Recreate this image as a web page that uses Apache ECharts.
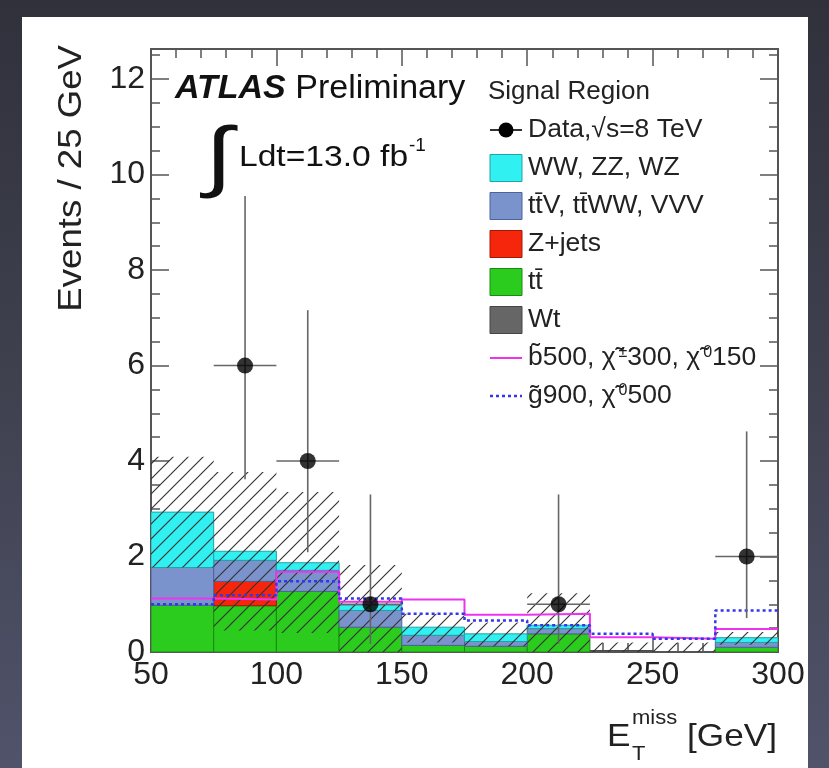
<!DOCTYPE html>
<html><head><meta charset="utf-8">
<script src="https://cdn.jsdelivr.net/npm/echarts@6/dist/echarts.min.js"></script>
<style>
html,body{margin:0;padding:0;width:829px;height:768px;overflow:hidden;background:linear-gradient(180deg,#30313b 0%,#3f414f 50%,#50536a 100%);}
#panel{position:absolute;left:22px;top:17px;width:786px;height:751px;background:#fff;}
#chart{position:absolute;left:0;top:0;width:829px;height:768px;}
</style></head><body><div id="panel"></div><div id="chart"></div>
<script>
// ---- data ----
const binEdges = [50, 75, 100, 125, 150, 175, 200, 225, 250, 275, 300];
const wt      = [0, 0, 0, 0, 0, 0, 0, 0.03, 0, 0];
const ttbar   = [0.98, 0.97, 1.27, 0.52, 0.14, 0.12, 0.38, 0, 0, 0.10];
const zjets   = [0, 0.51, 0, 0, 0, 0, 0, 0, 0, 0];
const ttv     = [0.79, 0.44, 0.44, 0.35, 0.21, 0.10, 0.11, 0, 0, 0.10];
const diboson = [1.16, 0.19, 0.16, 0.11, 0.17, 0.16, 0.07, 0, 0, 0.10];
const bandLow  = [1.77, 0.45, 0.40, 0.00, 0.20, 0.12, 0.00, 0.00, 0.00, 0.15];
const bandHigh = [4.09, 3.77, 3.35, 1.82, 0.80, 0.62, 1.23, 0.20, 0.20, 0.42];
const sbottom = [1.12, 1.10, 1.68, 1.05, 1.10, 0.78, 0.80, 0.31, 0.28, 0.48];
const gluino  = [1.00, 1.19, 1.48, 1.12, 0.80, 0.66, 0.56, 0.38, 0.28, 0.87];
const dataX  = [87.5, 112.5, 137.5, 212.5, 287.5];
const dataY  = [6, 4, 1, 1, 2];
const dataLo = [3.62, 2.09, 0.17, 0.17, 0.71];
const dataHi = [9.55, 7.16, 3.30, 3.30, 4.62];
const xTicks = [50, 100, 150, 200, 250, 300];
const yTicks = [0, 2, 4, 6, 8, 10, 12];
const legendLabels = [
  'Data,√s=8 TeV',
  'WW, ZZ, WZ',
  'tt̄V, tt̄WW, VVV',
  'Z+jets',
  'tt̄',
  'Wt',
  'b̃500, χ̃{sup|±}300, χ̃{sup|0}150',
  'g̃900, χ̃{sup|0}500'
];

// ---- styling ----
const FONT = '"Liberation Sans", Arial, Helvetica, sans-serif';
const AX = '#555';
const YMAX = 12.63;
const comps = [
  {name: 'Wt', vals: wt, fill: '#666666', stroke: '#444444'},
  {name: 'tt̄', vals: ttbar, fill: '#2ccc1e', stroke: '#1a8a12'},
  {name: 'Z+jets', vals: zjets, fill: '#f5260c', stroke: '#a01a08'},
  {name: 'tt̄V, tt̄WW, VVV', vals: ttv, fill: '#7b93cc', stroke: '#4d6399'},
  {name: 'WW, ZZ, WZ', vals: diboson, fill: '#30f0f2', stroke: '#22a3a6'}
];

function hatchCanvas() {
  const s = 15, c = document.createElement('canvas');
  c.width = s; c.height = s;
  const g = c.getContext('2d');
  g.strokeStyle = '#333'; g.lineWidth = 1.15;
  g.beginPath();
  g.moveTo(-2, s + 2); g.lineTo(s + 2, -2);
  g.moveTo(-2, 2); g.lineTo(2, -2);
  g.moveTo(s - 2, s + 2); g.lineTo(s + 2, s - 2);
  g.stroke();
  return c;
}
const hatch = hatchCanvas();

function rectRender(fill, stroke, lw) {
  return function (params, api) {
    const p0 = api.coord([api.value(0), api.value(3)]);
    const p1 = api.coord([api.value(1), api.value(2)]);
    return {type: 'rect', shape: {x: p0[0], y: p0[1], width: p1[0] - p0[0], height: p1[1] - p0[1]},
      style: {fill: fill, stroke: stroke, lineWidth: lw}};
  };
}

const series = [];
let base = binEdges.slice(0, -1).map(() => 0);
comps.forEach((c, k) => {
  const d = [];
  c.vals.forEach((v, i) => { if (v > 0) d.push([binEdges[i], binEdges[i + 1], base[i], base[i] + v]); });
  base = base.map((b, i) => b + c.vals[i]);
  series.push({type: 'custom', name: c.name, renderItem: rectRender(c.fill, c.stroke, 1), data: d,
    encode: {x: [0, 1], y: [2, 3]}, z: 2 + k, clip: true, silent: true});
});
// uncertainty band
series.push({type: 'custom', name: 'unc', z: 10, clip: true, silent: true,
  renderItem: rectRender({image: hatch, repeat: 'repeat'}, null, 0),
  data: bandLow.map((lo, i) => [binEdges[i], binEdges[i + 1], lo, bandHigh[i]]),
  encode: {x: [0, 1], y: [2, 3]}});
function stepData(vals) {
  const d = vals.map((v, i) => [binEdges[i], v]);
  d.push([binEdges[binEdges.length - 1], vals[vals.length - 1]]);
  return d;
}
series.push({type: 'line', name: 'sbottom', step: 'end', data: stepData(sbottom), symbol: 'none', z: 12,
  lineStyle: {color: '#ee33ee', width: 2}, silent: true});
series.push({type: 'line', name: 'gluino', step: 'end', data: stepData(gluino), symbol: 'none', z: 13,
  lineStyle: {color: '#3535ee', width: 2.5, type: [3, 3]}, silent: true});
// data error bars
series.push({type: 'custom', name: 'err', z: 14, silent: true,
  data: dataX.map((x, i) => [x, dataY[i], dataLo[i], dataHi[i]]),
  encode: {x: 0, y: [1, 2, 3]},
  renderItem: function (params, api) {
    const x = api.value(0), y = api.value(1);
    const top = api.coord([x, api.value(3)]), bot = api.coord([x, api.value(2)]);
    const l = api.coord([x - 12.5, y]), r = api.coord([x + 12.5, y]);
    const st = {stroke: '#666', lineWidth: 1.6};
    return {type: 'group', children: [
      {type: 'line', shape: {x1: top[0], y1: top[1], x2: bot[0], y2: bot[1]}, style: st},
      {type: 'line', shape: {x1: l[0], y1: l[1], x2: r[0], y2: r[1]}, style: st}
    ]};
  }});
series.push({type: 'scatter', name: 'Data', data: dataX.map((x, i) => [x, dataY[i]]), symbol: 'circle',
  symbolSize: 16, itemStyle: {color: '#000'}, z: 15, silent: true});

const lineCommon = {show: true, onZero: false, lineStyle: {color: AX, width: 2}};
function xAx(pos, labels) {
  return {type: 'value', position: pos, min: 50, max: 300, interval: 50,
    axisLine: lineCommon, splitLine: {show: false},
    axisTick: {show: true, inside: true, length: 17, lineStyle: {color: AX, width: 1.5}},
    minorTick: {show: true, splitNumber: 5, length: 9, lineStyle: {color: AX, width: 1.5}},
    axisLabel: {show: labels, fontSize: 32, fontFamily: FONT, color: '#222', margin: 7,
      formatter: v => (xTicks.indexOf(v) >= 0 ? String(v) : '')}};
}
function yAx(pos, interval, len, labels) {
  return {type: 'value', position: pos, min: 0, max: YMAX, interval: interval,
    axisLine: lineCommon, splitLine: {show: false},
    axisTick: {show: true, inside: true, length: len, lineStyle: {color: AX, width: 1.5}},
    axisLabel: {show: labels, fontSize: 32, fontFamily: FONT, color: '#222', margin: 6,
      showMaxLabel: false,
      formatter: v => (yTicks.indexOf(v) >= 0 ? String(v) : '')}};
}

// legend graphics
const legY0 = 130, legDY = 38, legX = 490, legW = 32, legH = 27, legTX = 528;
const legendGraphics = [];
legendLabels.forEach((lab, i) => {
  const y = legY0 + i * legDY;
  if (i === 0) {
    legendGraphics.push({type: 'line', shape: {x1: legX, y1: y, x2: legX + legW, y2: y}, style: {stroke: '#333', lineWidth: 2}});
    legendGraphics.push({type: 'circle', shape: {cx: legX + legW / 2, cy: y, r: 7.5}, style: {fill: '#000'}});
  } else if (i >= 1 && i <= 5) {
    const c = comps[5 - i];
    legendGraphics.push({type: 'rect', shape: {x: legX, y: y - legH / 2, width: legW, height: legH},
      style: {fill: c.fill, stroke: c.stroke, lineWidth: 1}});
  } else if (i === 6) {
    legendGraphics.push({type: 'line', shape: {x1: legX, y1: y, x2: legX + legW, y2: y}, style: {stroke: '#ee33ee', lineWidth: 2}});
  } else {
    legendGraphics.push({type: 'line', shape: {x1: legX, y1: y, x2: legX + legW, y2: y}, style: {stroke: '#3535ee', lineWidth: 2.5, lineDash: [3, 3]}});
  }
  legendGraphics.push({type: 'text', x: legTX, y: y, style: {text: lab, fontSize: 26.5, fontFamily: FONT, fill: '#222',
    verticalAlign: 'middle', align: 'left', rich: {sup: {fontSize: 16, fontFamily: FONT, fill: '#222', verticalAlign: 'top', padding: [0, 0, 0, 3]}}}});
});

const graphics = legendGraphics.concat([
  {type: 'text', x: 175, y: 89, style: {text: '{a|ATLAS}{p| Preliminary}', fontFamily: FONT, fill: '#111', verticalAlign: 'middle',
    rich: {a: {fontSize: 34, fontWeight: 'bold', fontStyle: 'italic', fontFamily: FONT, fill: '#111'},
           p: {fontSize: 34, fontFamily: FONT, fill: '#111'}}}},
  {type: 'text', x: 488, y: 92, style: {text: 'Signal Region', fontSize: 26, fontFamily: FONT, fill: '#222', verticalAlign: 'middle'}},
  {type: 'text', x: 205, y: 160, scaleX: 1.3, style: {text: '∫', fontSize: 78, fontFamily: FONT, fill: '#111', verticalAlign: 'middle'}},
  {type: 'text', x: 239, y: 158, scaleX: 1.12, style: {text: 'Ldt=13.0 fb', fontSize: 30, fontFamily: FONT, fill: '#111', verticalAlign: 'middle'}},
  {type: 'text', x: 409, y: 146, style: {text: '-1', fontSize: 19, fontFamily: FONT, fill: '#111', verticalAlign: 'middle'}},
  {type: 'text', x: 72, y: 45, rotation: Math.PI / 2, scaleX: 1.11, style: {text: 'Events / 25 GeV', fontSize: 33, fontFamily: FONT, fill: '#222',
    align: 'right', verticalAlign: 'middle'}},
  {type: 'text', x: 607, y: 737, scaleX: 1.1, style: {text: 'E', fontSize: 32, fontFamily: FONT, fill: '#222', verticalAlign: 'middle'}},
  {type: 'text', x: 632, y: 718, scaleX: 1.1, style: {text: 'miss', fontSize: 20, fontFamily: FONT, fill: '#222', verticalAlign: 'middle'}},
  {type: 'text', x: 632, y: 754, scaleX: 1.1, style: {text: 'T', fontSize: 20, fontFamily: FONT, fill: '#222', verticalAlign: 'middle'}},
  {type: 'text', x: 687, y: 737, scaleX: 1.1, style: {text: '[GeV]', fontSize: 32, fontFamily: FONT, fill: '#222', verticalAlign: 'middle'}}
]);

const chart = echarts.init(document.getElementById('chart'), null, {renderer: 'canvas'});
chart.setOption({
  animation: false,
  backgroundColor: 'transparent',
  grid: {left: 151, right: 51, top: 49, bottom: 116, containLabel: false},
  xAxis: [xAx('bottom', true), xAx('top', false)],
  yAxis: [yAx('left', 2, 18, true), yAx('left', 0.5, 9, false), yAx('right', 2, 18, false), yAx('right', 0.5, 9, false)],
  series: series,
  graphic: graphics
});
</script></body></html>
